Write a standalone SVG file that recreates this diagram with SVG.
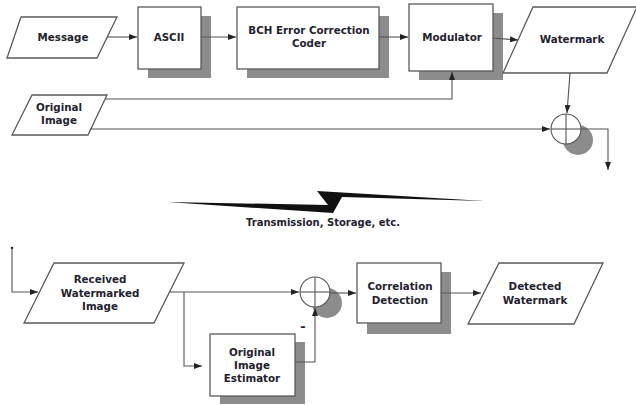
<svg xmlns="http://www.w3.org/2000/svg" width="636" height="405" viewBox="0 0 636 405">
<style>
.box{fill:#fff;stroke:#5a5a5a;stroke-width:1.3}
.shd{fill:#8c8c8c;stroke:none}
.ln{fill:none;stroke:#555;stroke-width:1.1}
.t{font-family:"DejaVu Sans",Verdana,sans-serif;font-weight:bold;font-size:10.3px;fill:#24222e;text-anchor:middle}
</style>
<defs>
<marker id="ar" viewBox="0 0 8 6" refX="8" refY="3" markerWidth="8" markerHeight="6" markerUnits="userSpaceOnUse" orient="auto">
<path d="M0,0 L8,3 L0,6 Z" fill="#222"/>
</marker>
</defs>
<rect width="636" height="405" fill="#fff"/>

<g id="message">
<polygon class="box" points="21,17 117,17 97,58 7,58"/>
<text class="t" x="63" y="41">Message</text>
</g>
<g id="ascii">
<rect class="shd" x="148" y="16" width="63" height="62"/>
<rect class="box" x="138" y="7" width="63" height="62"/>
<text class="t" x="169" y="41">ASCII</text>
</g>
<g id="bch">
<rect class="shd" x="247" y="16" width="142" height="62"/>
<rect class="box" x="237" y="7" width="142" height="62"/>
<text class="t" x="309" y="34">BCH Error Correction</text>
<text class="t" x="309" y="47">Coder</text>
</g>
<g id="modulator">
<rect class="shd" x="419" y="13" width="84" height="67"/>
<rect class="box" x="409" y="4" width="84" height="67"/>
<text class="t" x="452" y="41">Modulator</text>
</g>
<g id="watermark">
<polygon class="box" points="533,7 637,7 607,73 503,73"/>
<text class="t" x="572" y="43">Watermark</text>
</g>
<g id="original-image">
<polygon class="box" points="32,95 107,95 88,135 12,135"/>
<text class="t" x="59" y="111">Original</text>
<text class="t" x="59" y="124">Image</text>
</g>
<g id="adder-top">
<circle class="shd" cx="578" cy="140" r="15"/>
<circle cx="566" cy="129" r="15" fill="#fff" stroke="#555" stroke-width="1.1"/>
<line class="ln" x1="566" y1="114" x2="566" y2="144"/>
<line class="ln" x1="551" y1="129" x2="581" y2="129"/>
</g>
<g id="channel">
<polygon points="167,202 328,205 317,191 485,201 342,197 333,213" fill="#111"/>
<text class="t" x="323" y="226" style="font-size:10px">Transmission, Storage, etc.</text>
</g>
<g id="received">
<polygon class="box" points="54,263 184,263 154,323 24,323"/>
<text class="t" x="100" y="283">Received</text>
<text class="t" x="100" y="297">Watermarked</text>
<text class="t" x="100" y="310">Image</text>
</g>
<g id="estimator">
<rect class="shd" x="220" y="342" width="85" height="62"/>
<rect class="box" x="210" y="334" width="85" height="62"/>
<text class="t" x="252" y="356">Original</text>
<text class="t" x="252" y="369">Image</text>
<text class="t" x="252" y="382">Estimator</text>
</g>
<g id="adder-bottom">
<circle class="shd" cx="327" cy="303" r="15"/>
<circle cx="315" cy="292" r="15" fill="#fff" stroke="#555" stroke-width="1.1"/>
<line class="ln" x1="315" y1="277" x2="315" y2="307"/>
<line class="ln" x1="300" y1="292" x2="330" y2="292"/>
<text class="t" x="303" y="331" style="font-size:13px">-</text>
</g>
<g id="correlation">
<rect class="shd" x="367" y="272" width="84" height="62"/>
<rect class="box" x="357" y="263" width="84" height="60"/>
<text class="t" x="400" y="290">Correlation</text>
<text class="t" x="400" y="304">Detection</text>
</g>
<g id="detected">
<polygon class="box" points="499,263 603,263 574,324 468,324"/>
<text class="t" x="535" y="290">Detected</text>
<text class="t" x="535" y="304">Watermark</text>
</g>

<g id="connectors">
<line class="ln" x1="107" y1="37" x2="137" y2="37" marker-end="url(#ar)"/>
<line class="ln" x1="201" y1="37" x2="236" y2="37" marker-end="url(#ar)"/>
<line class="ln" x1="379" y1="37" x2="408" y2="37" marker-end="url(#ar)"/>
<line class="ln" x1="493" y1="38" x2="518" y2="40" marker-end="url(#ar)"/>
<polyline class="ln" points="105,99 452,99 452,72" marker-end="url(#ar)"/>
<line class="ln" x1="90" y1="129" x2="550" y2="129" marker-end="url(#ar)"/>
<line class="ln" x1="570" y1="73" x2="567" y2="113" marker-end="url(#ar)"/>
<polyline class="ln" points="581,129 608,129 608,170" marker-end="url(#ar)"/>
<circle cx="12" cy="248" r="1.3" fill="#222"/>
<polyline class="ln" points="12,248 12,292 38,292" marker-end="url(#ar)"/>
<line class="ln" x1="169" y1="292" x2="299" y2="292" marker-end="url(#ar)"/>
<polyline class="ln" points="184,292 184,366 202,366" marker-end="url(#ar)"/>
<polyline class="ln" points="295,362 315,362 315,308" marker-end="url(#ar)"/>
<line class="ln" x1="330" y1="293" x2="356" y2="293" marker-end="url(#ar)"/>
<line class="ln" x1="441" y1="293" x2="481" y2="293" marker-end="url(#ar)"/>
</g>
</svg>
